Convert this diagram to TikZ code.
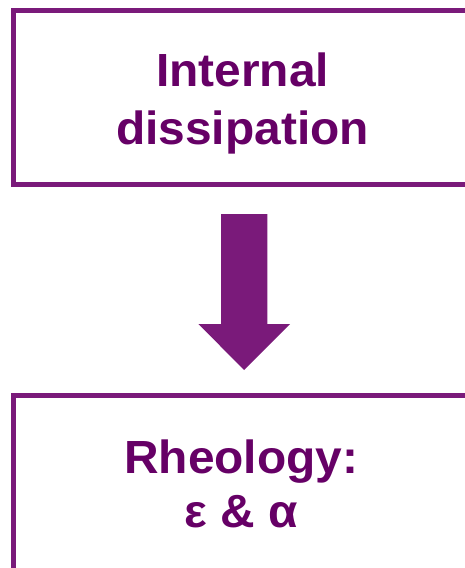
\documentclass[tikz,border=0pt]{standalone}
\usepackage{fontspec}
\setmainfont{Liberation Sans}[FakeStretch=1.03]
\definecolor{boxpurple}{RGB}{122,26,122}
\definecolor{textpurple}{RGB}{102,0,102}
\begin{document}
\begin{tikzpicture}[x=1pt,y=-1pt,
  frame/.style={draw=boxpurple,line width=5pt},
  lbl/.style={anchor=base,inner sep=0pt,text=textpurple,font=\fontsize{46.5}{55}\selectfont\bfseries}]
\useasboundingbox (0,0) rectangle (465,568);
\draw[frame] (13.5,10.5) rectangle (475,184);
\node[lbl] (t1) at (242.5,86.7) {Internal};
\node[lbl] (t2) at (242.5,144) {dissipation};
\fill[boxpurple] (221,214) -- (267.3,214) -- (267.3,324) -- (290,324) -- (244.2,370)
  -- (198.3,324) -- (221,324) -- cycle;
\draw[frame] (13.5,395) rectangle (475,570);
\node[lbl] (b1) at (241.3,473.3) {Rheology:};
\node[lbl] (b2) at (241.3,527.3) {ε \& α};
\end{tikzpicture}
\end{document}
